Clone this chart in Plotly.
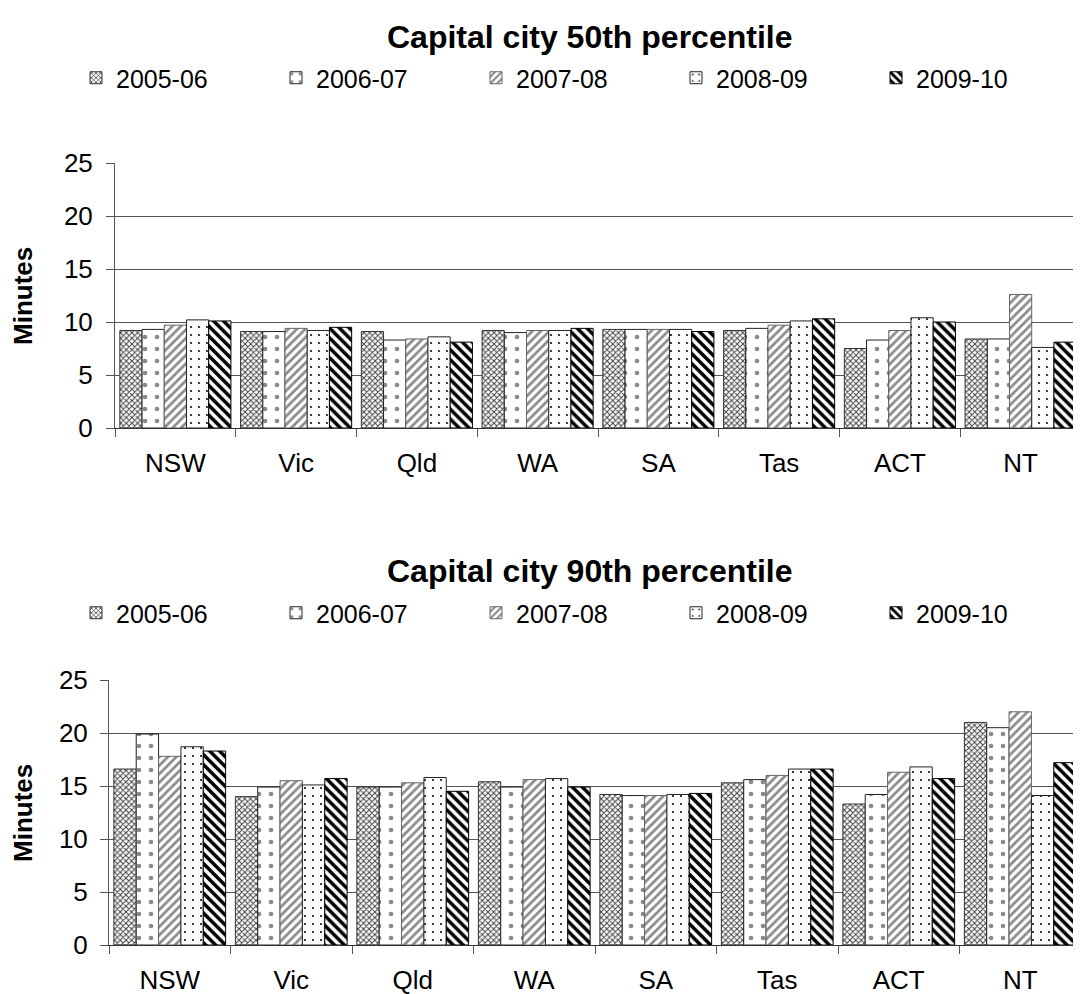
import plotly.graph_objects as go

states = ["NSW", "Vic", "Qld", "WA", "SA", "Tas", "ACT", "NT"]
years = ["2005-06", "2006-07", "2007-08", "2008-09", "2009-10"]

# 50th percentile (minutes)
p50_2005 = [9.2, 9.1, 9.1, 9.2, 9.3, 9.2, 7.5, 8.4]
p50_2006 = [9.3, 9.1, 8.3, 9.0, 9.3, 9.4, 8.3, 8.4]
p50_2007 = [9.7, 9.4, 8.4, 9.2, 9.3, 9.7, 9.2, 12.6]
p50_2008 = [10.2, 9.2, 8.6, 9.2, 9.3, 10.1, 10.4, 7.6]
p50_2009 = [10.1, 9.5, 8.1, 9.4, 9.1, 10.3, 10.0, 8.1]

# 90th percentile (minutes)
p90_2005 = [16.6, 14.0, 14.9, 15.4, 14.2, 15.3, 13.3, 21.0]
p90_2006 = [19.9, 14.9, 14.9, 14.9, 14.1, 15.6, 14.2, 20.5]
p90_2007 = [17.8, 15.5, 15.3, 15.6, 14.1, 16.0, 16.3, 22.0]
p90_2008 = [18.7, 15.1, 15.8, 15.7, 14.2, 16.6, 16.8, 14.1]
p90_2009 = [18.3, 15.7, 14.5, 14.9, 14.3, 16.6, 15.7, 17.2]

p50 = [p50_2005, p50_2006, p50_2007, p50_2008, p50_2009]
p90 = [p90_2005, p90_2006, p90_2007, p90_2008, p90_2009]

# page body has an 8px margin, so the figure is a bit smaller and positions
# below are given in page pixels and shifted
OFF = 8
W, H = 1081 - OFF, 994 - OFF
FONT = "Liberation Sans, Arial, sans-serif"

def fx(x):
    return (x - OFF) / W

def fy(y):
    return 1 - (y - OFF) / H

patterns = [
    dict(shape="x", fgcolor="#444444", size=4, solidity=0.45),
    dict(shape=".", fgcolor="#8a8a8a", size=12, solidity=0.12),
    dict(shape="/", fgcolor="#8a8a8a", size=6, solidity=0.45),
    dict(shape=".", fgcolor="#111111", size=8, solidity=0.06),
    dict(shape="\\", fgcolor="#000000", size=7, solidity=0.5),
]
outlines = ["#333333", "#222222", "#666666", "#222222", "#000000"]

fig = go.Figure()
for i, yr in enumerate(years):
    pat = dict(patterns[i], bgcolor="white", fillmode="replace")
    fig.add_trace(go.Bar(
        x=states, y=p50[i], name=yr, xaxis="x", yaxis="y", legend="legend",
        marker=dict(color="white", pattern=pat, line=dict(color=outlines[i], width=1)),
    ))
for i, yr in enumerate(years):
    pat = dict(patterns[i], bgcolor="white", fillmode="replace")
    fig.add_trace(go.Bar(
        x=states, y=p90[i], name=yr, xaxis="x2", yaxis="y2", legend="legend2",
        marker=dict(color="white", pattern=pat, line=dict(color=outlines[i], width=1)),
    ))

def yax(domain, anchor, standoff):
    return dict(
        domain=domain, anchor=anchor, range=[0, 25], dtick=5, automargin=False,
        showgrid=True, gridcolor="#555555", gridwidth=1,
        showline=True, linecolor="#555555", linewidth=1,
        ticks="outside", ticklen=8, tickcolor="#555555",
        ticklabelstandoff=standoff,
        tickfont=dict(size=26, color="black"), zeroline=False,
    )

def xax(domain, anchor):
    return dict(
        domain=domain, anchor=anchor, showgrid=False, automargin=False,
        showline=True, linecolor="#333333", linewidth=1,
        ticks="outside", ticklen=8, tickcolor="#555555", tickson="boundaries",
        ticklabelstandoff=12,
        tickfont=dict(size=26, color="black"),
    )

legend_common = dict(
    orientation="h", xanchor="left", yanchor="middle",
    font=dict(size=25, color="black"), entrywidth=155, entrywidthmode="pixels",
    bgcolor="rgba(0,0,0,0)", traceorder="normal",
)

def ann(text, x, y, size, angle=0):
    return dict(text=text, x=fx(x), y=fy(y), xref="paper", yref="paper",
                xanchor="center", yanchor="middle",
                showarrow=False, textangle=angle, font=dict(size=size, color="black"))

fig.update_layout(
    width=W, height=H,
    margin=dict(l=0, r=0, t=0, b=0, autoexpand=False),
    paper_bgcolor="white", plot_bgcolor="white",
    font=dict(family=FONT, color="black"),
    barmode="group", bargap=0.08, bargroupgap=0,
    xaxis=xax([fx(115), 1.0], "y"),
    yaxis=yax([fy(428), fy(163)], "x", 8),
    xaxis2=xax([fx(109), 1.0], "y2"),
    yaxis2=yax([fy(945), fy(680)], "x2", 7),
    legend=dict(legend_common, x=fx(76), y=fy(78)),
    legend2=dict(legend_common, x=fx(76), y=fy(613)),
    annotations=[
        ann("<b>Capital city 50th percentile</b>", 589, 37, 32),
        ann("<b>Capital city 90th percentile</b>", 589, 571, 32),
        ann("<b>Minutes</b>", 23, 296, 26, -90),
        ann("<b>Minutes</b>", 23, 813, 26, -90),
    ],
)

fig.write_html("out.html")
